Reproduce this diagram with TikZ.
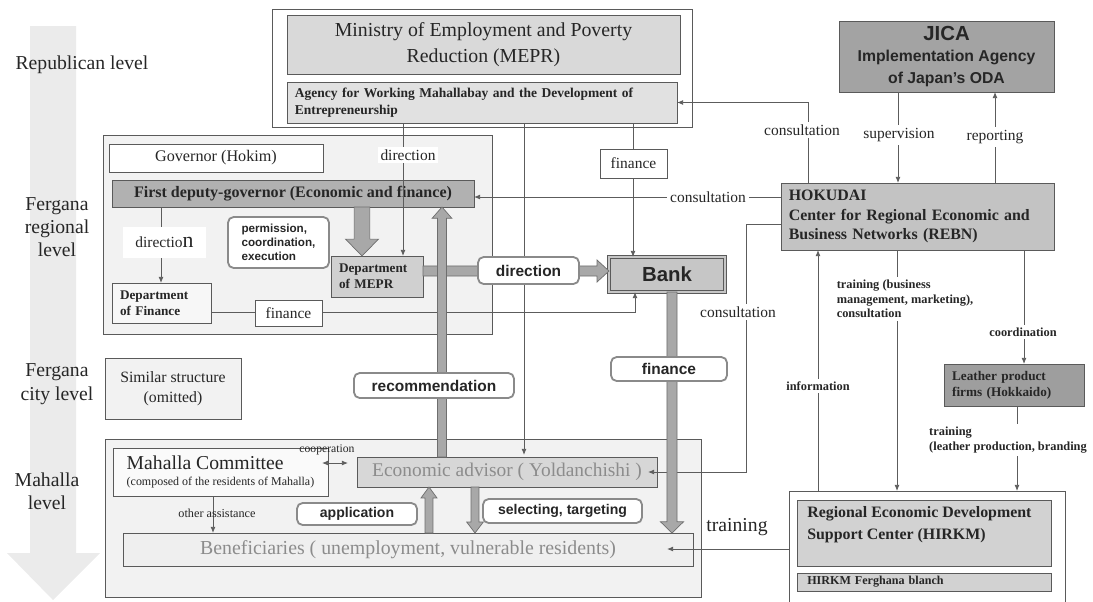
\documentclass[tikz,border=0pt]{standalone}
\usepackage{fontspec}
\setmainfont{Liberation Serif}
\setsansfont{Liberation Sans}
\usetikzlibrary{arrows.meta,calc,positioning}

\definecolor{edgegray}{HTML}{5A5A5A}
\definecolor{linegray}{HTML}{5C5C5C}
\definecolor{levelfill}{HTML}{EBEBEB}
\definecolor{areafill}{HTML}{F2F2F2}
\definecolor{meprfill}{HTML}{D9D9D9}
\definecolor{agencyfill}{HTML}{E1E1E1}
\definecolor{jicafill}{HTML}{A3A3A3}
\definecolor{hokufill}{HTML}{C3C3C3}
\definecolor{leatherfill}{HTML}{9E9E9E}
\definecolor{hirkmfill}{HTML}{D2D2D2}
\definecolor{deputyfill}{HTML}{B1B1B1}
\definecolor{deptfill}{HTML}{D0D0D0}
\definecolor{bankfill}{HTML}{C6C6C6}
\definecolor{advfill}{HTML}{D7D7D7}
\definecolor{benfill}{HTML}{EFEFEF}
\definecolor{fatfill}{HTML}{A8A8A8}
\definecolor{fatline}{HTML}{6E6E6E}
\definecolor{pillline}{HTML}{8A8A8A}
\definecolor{greytext}{HTML}{8C8C8C}
\definecolor{inktext}{HTML}{262626}

\begin{document}
\begin{tikzpicture}[
    x=0.025cm, y=-0.025cm,
    every node/.style={text=inktext},
    sz/.style 2 args={minimum width=#1*0.025cm, minimum height=#2*0.025cm},
    box/.style={draw=edgegray, line width=0.6pt, inner sep=0pt, outer sep=0pt},
    lvl/.style={align=center, font=\fontsize{14}{16.6}\selectfont},
    con/.style={draw=linegray, line width=0.55pt, -{Latex[length=4.3pt,width=3.4pt]}},
    lbl/.style={fill=white, inner sep=2pt, font=\fontsize{11}{13}\selectfont},
    blbl/.style={fill=white, inner sep=2pt, align=left, font=\bfseries\fontsize{8.8}{10.5}\selectfont},
    pill/.style={draw=pillline, line width=1.3pt, rounded corners=4pt, fill=white,
                 inner sep=0pt, font=\sffamily\bfseries\fontsize{11}{13}\selectfont},
    fat/.style n args={3}{fill=fatfill, draw=fatline, line width=0.5pt,
      to path={let \p1=(\tikztostart), \p2=(\tikztotarget),
                   \n1={atan2(\y2-\y1,\x2-\x1)} in
        ($(\p1)+(\n1+90:#1)$) -- ($(\p2)+(\n1+180:#3)+(\n1+90:#1)$)
        -- ($(\p2)+(\n1+180:#3)+(\n1+90:#2)$) -- (\p2)
        -- ($(\p2)+(\n1+180:#3)+(\n1-90:#2)$) -- ($(\p2)+(\n1+180:#3)+(\n1-90:#1)$)
        -- ($(\p1)+(\n1-90:#1)$) -- cycle}}
  ]
\useasboundingbox (0,0) rectangle (1093,601);

% levels
\fill[levelfill] (30,26) -- (76,26) -- (76,553) -- (100,553) -- (53,600)
                 -- (7,553) -- (30,553) -- cycle;
\node[lvl] (replvl) at (82,65) {Republican level};
\node[lvl] (reglvl) at (57,227) {Fergana\\regional\\level};
\node[lvl] (citylvl) at (57,384) {Fergana\\city level};
\node[lvl] (mahlvl) at (47,491) {Mahalla\\level};

% republican
\node[box, fill=white, sz={420}{118}] (meprout) at (482,68) {};
\node[box, fill=meprfill, sz={393}{59}, align=center,
      font=\fontsize{14.1}{19}\selectfont] (mepr) at (483.5,44.5)
      {Ministry of Employment and Poverty\\Reduction (MEPR)};
\node[box, fill=agencyfill, sz={390}{41}, text width=266pt, align=left,
      font=\bfseries\fontsize{9.6}{12}\selectfont] (agency) at (482,102.5)
      {Agency for Working Mahallabay and the Development of\\Entrepreneurship};

% japan side
\node[box, fill=jicafill, sz={215}{71}, align=center,
      font=\sffamily\bfseries\fontsize{11.2}{15}\selectfont] (jica) at (946.5,56.5)
      {{\fontsize{14.5}{15}\selectfont JICA}\\Implementation Agency\\of Japan’s ODA};
\node[box, fill=hokufill, sz={273}{67}, text width=183pt, align=left,
      font=\bfseries\fontsize{11.3}{14}\selectfont] (hokudai) at (917.5,216.5)
      {HOKUDAI\\Center for Regional Economic and\\Business Networks (REBN)};
\node[box, fill=leatherfill, sz={140}{42}, text width=88pt, align=left,
      font=\bfseries\fontsize{9.4}{11.4}\selectfont] (leather) at (1014,385)
      {Leather product\\firms (Hokkaido)};
\node[box, fill=white, sz={276}{114}] (hirkmout) at (927,548) {};
\node[box, fill=hirkmfill, sz={254}{66}] (hirkm) at (924,533) {};
\node[anchor=north west, inner sep=0pt, align=left,
      font=\bfseries\fontsize{11.3}{15.5}\selectfont] (hirkmtxt) at (807,506)
      {Regional Economic Development\\Support Center (HIRKM)};
\node[box, fill=hirkmfill, sz={254}{18}, text width=166pt, align=left,
      font=\bfseries\fontsize{8.6}{10}\selectfont] (branch) at (924,582)
      {HIRKM Ferghana blanch};

% regional
\node[box, fill=areafill, sz={389}{199}] (region) at (297.5,234.5) {};
\node[box, fill=white, sz={214}{28}, font=\fontsize{11.5}{13}\selectfont]
      (gov) at (216,158) {Governor (Hokim)};
\node[box, fill=deputyfill, sz={362}{27}, font=\bfseries\fontsize{11.4}{13}\selectfont]
      (deputy) at (293,193.5) {First deputy-governor (Economic and finance)};
\node[pill, sz={101}{51}, align=left, font=\sffamily\bfseries\fontsize{8.3}{10}\selectfont]
      (perm) at (278.5,242.5) {permission,\\coordination,\\execution};
\node[box, fill=deptfill, sz={92}{41}, text width=54pt, align=left,
      font=\bfseries\fontsize{9.4}{11.4}\selectfont] (dmepr) at (377,276.5)
      {Department\\of MEPR};
\node[box, fill=areafill!60!white, sz={99}{40}, text width=59pt, align=left,
      font=\bfseries\fontsize{9.4}{11.4}\selectfont] (dfin) at (161.5,303)
      {Department\\of Finance};
\node[box, fill=bankfill, draw=edgegray, double=bankfill, double distance=1.2pt,
      sz={116}{35}, font=\sffamily\bfseries\fontsize{14.5}{16}\selectfont]
      (bank) at (667,274.5) {Bank};

% city
\node[box, fill=areafill, sz={136}{61}, align=center, font=\fontsize{11.2}{14}\selectfont]
      (similar) at (173,388.5) {Similar structure\\(omitted)};

% mahalla
\node[box, fill=areafill, sz={596}{158}] (mahbox) at (403,518) {};
\node[box, fill=white!60!areafill, sz={215}{48}, align=left]
      (comm) at (220.5,472)
      {{\fontsize{14}{16}\selectfont Mahalla Committee}\\[-1pt]
       {\fontsize{8.5}{10}\selectfont (composed of the residents of Mahalla)}};
\node[box, fill=advfill, sz={300}{30}, text=greytext, font=\fontsize{13.8}{15}\selectfont]
      (adv) at (507,472) {Economic advisor ( Yoldanchishi )};
\node[box, fill=benfill, sz={570}{33}, text=greytext, font=\fontsize{14.1}{15}\selectfont]
      (ben) at (408,549.5) {Beneficiaries ( unemployment, vulnerable residents)};

% thin connectors
\draw[con] (agency.south -| 403,0) -- (dmepr.north -| 403,0);
\draw[con] (agency.south -| 524,0) -- ($(adv.north -| 524,0)+(0,-2)$);
\draw[con] (agency.south -| 633,0) -- (bank.north -| 633,0);
\draw[con] (deputy.south -| 161,0) -- (dfin.north -| 161,0);
\draw[con] (dfin.east |- 0,312) -| ($(bank.south)+(-32,0)$);
\draw[con] (hokudai.north -| 808,0) |- (agency.east);
\draw[con] (hokudai.west |- 0,197) -- (deputy.east |- 0,197);
\draw[con] (hokudai.west |- 0,224) -| ($(adv.east)+(89,0)$) -- ($(adv.east)+(-9,0)$);
\draw[con] (jica.south -| 898,0) -- (hokudai.north -| 898,0);
\draw[con] (hokudai.north -| 995,0) -- (jica.south -| 995,0);
\draw[con] (hokudai.south -| 897,0) -- (hirkmout.north -| 897,0);
\draw[con] (hokudai.south -| 1024,0) -- (leather.north -| 1024,0);
\draw[con] (leather.south -| 1017,0) -- (hirkmout.north -| 1017,0);
\draw[con] (hirkmout.north -| 818,0) -- (hokudai.south -| 818,0);
\draw[con] (hirkmout.west |- 0,549) -- ($(ben.east |- 0,549)+(-26,0)$);
\draw[con, {Latex[length=4.3pt,width=3.4pt]}-{Latex[length=4.3pt,width=3.4pt]}]
      ($(comm.east)+(-6,-9)$) -- ($(adv.west)+(-9,-9)$);
\draw[con] (comm.south -| 213,0) -- (ben.north -| 213,0);

% thick arrows
\draw[fat={3.6pt}{7.8pt}{8.5pt}] (dmepr.east |- 0,271) to (bank.west |- 0,271);
\draw[fat={5.6pt}{11.7pt}{12pt}] (deputy.south -| 362,0) to (dmepr.north -| 362,0);
\draw[fat={3.2pt}{7pt}{8pt}] (adv.north -| 442,0) to (deputy.south -| 442,0);
\draw[fat={3.6pt}{8.2pt}{8pt}] (bank.south -| 672,0) to (ben.north -| 672,0);
\draw[fat={2.8pt}{5.7pt}{7.8pt}] (ben.north -| 429,0) to (adv.south -| 429,0);
\draw[fat={2.8pt}{5.9pt}{7.8pt}] (adv.south -| 475,0) to (ben.north -| 475,0);

% labels
\node[lbl] (dirlbl) at (408,155) {direction};
\node[lbl, sz={83}{31}] (dirlbl2) at (164.5,242.5)
      {directio{\fontsize{15.5}{15}\selectfont n}};
\node[box, fill=white, sz={67}{29}, font=\fontsize{11}{13}\selectfont]
      (finlbl) at (633.5,163.5) {finance};
\node[box, fill=white, sz={67}{26}, font=\fontsize{11}{13}\selectfont]
      (finlbl2) at (288.5,313) {finance};
\node[lbl] (conlbl1) at (802,130) {consultation};
\node[lbl] (conlbl2) at (708,197) {consultation};
\node[lbl] (conlbl3) at (738,312) {consultation};
\node[lbl] (suplbl) at (899,135) {supervision};
\node[lbl] (replbl) at (995,137) {reporting};
\node[blbl] (trnlbl) at (905,299) {training (business\\management, marketing),\\consultation};
\node[blbl] (coolbl) at (1023,332) {coordination};
\node[blbl] (trnlbl2) at (1008,440) {training\\(leather production, branding};
\node[blbl] (inflbl) at (818,386) {information};
\node[font=\fontsize{14}{16}\selectfont] (trnlbl3) at (737,527) {training};
\node[font=\fontsize{8.3}{10}\selectfont, inner sep=0pt] (cooplbl) at (327,450) {cooperation};
\node[font=\fontsize{8.7}{10}\selectfont, inner sep=0pt] (othlbl) at (217,513) {other assistance};

\node[pill, sz={101}{27}] (dirpill) at (528.5,270.5) {direction};
\node[pill, sz={160}{25}] (recpill) at (434,385.5) {recommendation};
\node[pill, sz={116}{24}] (finpill) at (669,369) {finance};
\node[pill, sz={120}{22}, font=\sffamily\bfseries\fontsize{10}{12}\selectfont]
      (apppill) at (357,514) {application};
\node[pill, sz={159}{24}, font=\sffamily\bfseries\fontsize{10}{12}\selectfont]
      (selpill) at (562.5,511) {selecting, targeting};
\end{tikzpicture}
\end{document}
